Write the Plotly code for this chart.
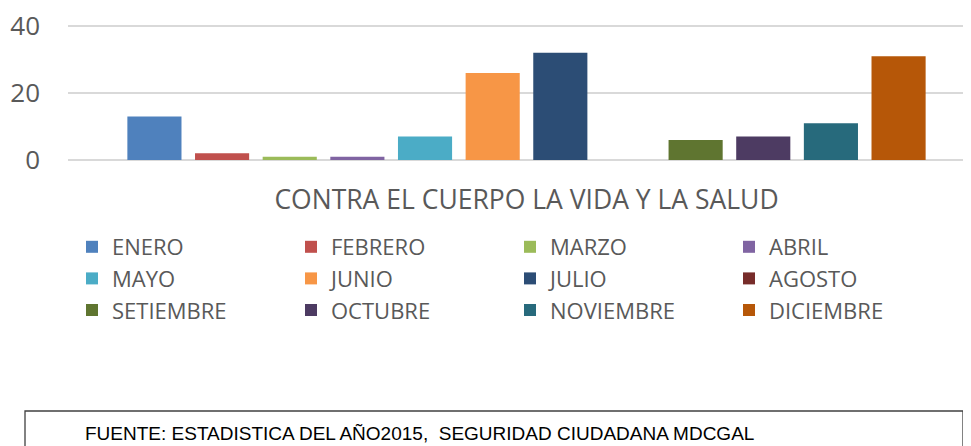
import plotly.graph_objects as go

categoria = ["CONTRA EL CUERPO LA VIDA Y LA SALUD"]
meses = ["ENERO", "FEBRERO", "MARZO", "ABRIL", "MAYO", "JUNIO", "JULIO",
         "AGOSTO", "SETIEMBRE", "OCTUBRE", "NOVIEMBRE", "DICIEMBRE"]
valores = [13, 2, 1, 1, 7, 26, 32, 0, 6, 7, 11, 31]
colores = ["#4F81BD", "#C0504D", "#9BBB59", "#8064A2", "#4BACC6", "#F79646",
           "#2C4D75", "#772C2A", "#5F7530", "#4D3B62", "#276A7C", "#B65708"]
y_ticks = [0, 20, 40]
fuente = "FUENTE: ESTADISTICA DEL AÑO2015,  SEGURIDAD CIUDADANA MDCGAL"

OFF = 8  # page body margin
W, H = 971 - OFF, 446 - OFF
ML, MR, MT, MB = 68 - OFF, 0, 23 - OFF, 446 - 162
PW, PH = W - ML - MR, H - MT - MB


def px_x(p):
    return (p - OFF - ML) / PW


def px_y(p):
    return (H - MB - (p - OFF)) / PH


fig = go.Figure()
for m, v, c in zip(meses, valores, colores):
    fig.add_trace(go.Bar(name=m, x=categoria, y=[v], marker=dict(color=c, line=dict(width=0))))

fig.update_layout(
    width=W, height=H,
    margin=dict(l=ML, r=MR, t=MT, b=MB, pad=0),
    paper_bgcolor="white", plot_bgcolor="white",
    barmode="group", bargap=0.101, bargroupgap=0.2,
    font=dict(family="Open Sans", color="#595959"),
    showlegend=True,
    legend=dict(
        orientation="h", x=px_x(72), xanchor="left", y=px_y(226), yanchor="top",
        font=dict(family="Open Sans", size=22, color="#595959"),
        entrywidth=174, entrywidthmode="pixels", traceorder="normal",
        bgcolor="rgba(0,0,0,0)",
    ),
    xaxis=dict(
        range=[-458.5 / PW, 444.5 / PW],
        showgrid=False, zeroline=False, showline=False, ticks="",
        tickfont=dict(family="Open Sans", size=26.5, color="#595959"),
        ticklabelstandoff=19,
    ),
    yaxis=dict(
        range=[-0.597, 40.896],
        tickvals=y_ticks, ticktext=[str(t) for t in y_ticks],
        showgrid=True, gridcolor="#d9d9d9", gridwidth=1.7,
        zeroline=True, zerolinecolor="#d9d9d9", zerolinewidth=1.7,
        showline=False, ticks="", automargin=False,
        ticklabeloverflow="allow",
        tickfont=dict(family="Open Sans", size=26, color="#595959"),
        ticklabelstandoff=27,
    ),
    shapes=[dict(
        type="rect", xref="paper", yref="paper",
        x0=px_x(25), x1=px_x(963), y0=px_y(411), y1=px_y(470),
        line=dict(color="#404040", width=1.3), fillcolor="rgba(0,0,0,0)",
    )],
    annotations=[dict(
        text=fuente, xref="paper", yref="paper",
        x=px_x(83), y=px_y(433.5), xanchor="left", yanchor="middle",
        showarrow=False, font=dict(family="Liberation Sans", size=19, color="#000000"),
    )],
)

fig.write_html("out.html")
